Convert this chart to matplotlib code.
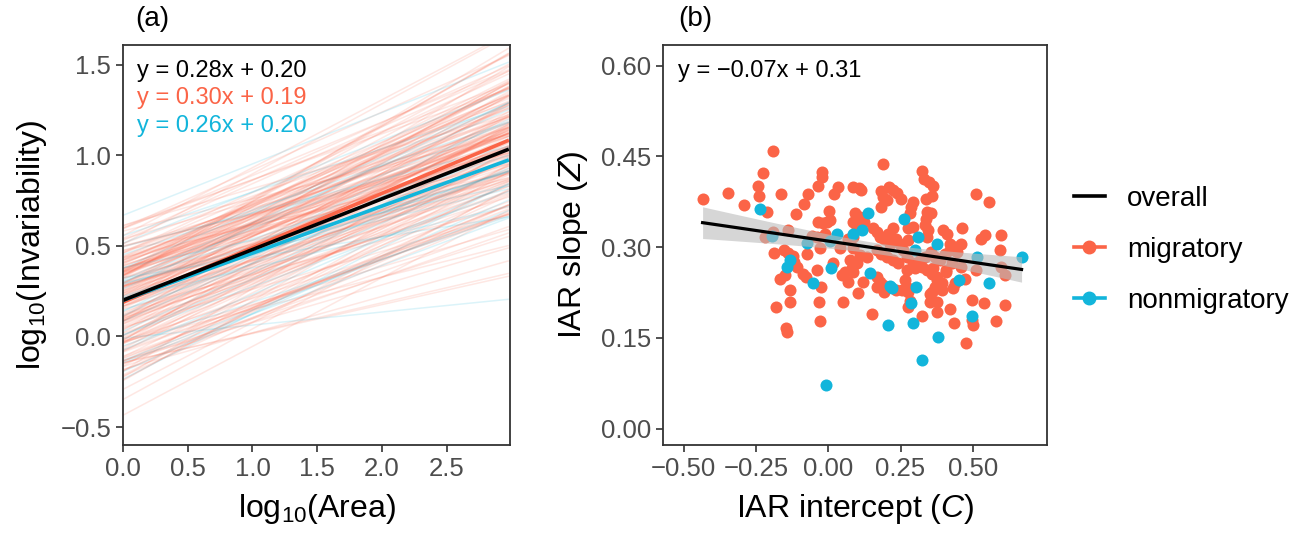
import numpy as np
import matplotlib
matplotlib.use("Agg")
import matplotlib.pyplot as plt
from matplotlib.lines import Line2D

plt.rcParams['font.family'] = ['Liberation Sans', 'DejaVu Sans']
plt.rcParams['mathtext.fontset'] = 'custom'
plt.rcParams['mathtext.rm'] = 'Liberation Sans'
plt.rcParams['mathtext.it'] = 'Liberation Sans:italic'

# IAR intercept (C) and slope (Z) per species
mig_C = [-0.192, 0.188, -0.225, -0.021, -0.021, -0.244, -0.035, 0.323, 0.332, 0.349,
         0.363, -0.435, -0.348, -0.292, -0.239, -0.164, -0.069, -0.084, 0.021, 0.035,
         0.086, 0.107, 0.112, 0.182, 0.211, 0.225, 0.239, 0.250, 0.188, 0.202,
         0.184, 0.294, 0.288, 0.282, 0.338, 0.360, 0.511, 0.557, -0.213, -0.113,
         0.003, -0.035, -0.017, -0.006, 0.006, 0.092, 0.109, 0.086, 0.123, 0.098,
         0.340, 0.357, 0.338, 0.334, 0.346, 0.340, -0.138, -0.219, -0.190, -0.058,
         -0.040, -0.012, 0.069, 0.086, 0.156, 0.167, 0.179, 0.192, 0.207, 0.225,
         0.213, 0.236, 0.248, 0.277, 0.277, 0.294, 0.398, 0.411, 0.421, 0.438,
         0.461, 0.464, 0.530, 0.542, 0.599, 0.594, -0.187, -0.153, -0.138, -0.123,
         -0.118, -0.075, -0.029, 0.040, 0.086, 0.075, 0.109, 0.133, 0.098, 0.167,
         0.184, 0.202, 0.225, 0.242, 0.259, 0.271, 0.294, 0.317, 0.334, 0.357,
         0.369, 0.386, 0.403, 0.421, 0.444, -0.109, -0.167, -0.150, -0.078, -0.086,
         -0.038, 0.017, 0.046, 0.058, 0.081, 0.086, 0.119, 0.069, 0.167, 0.179,
         0.190, 0.167, 0.271, 0.300, 0.323, 0.340, 0.363, 0.375, 0.392, 0.407,
         0.461, 0.473, 0.513, 0.599, 0.611, -0.133, -0.025, 0.103, 0.194, 0.254,
         0.267, 0.277, 0.352, 0.369, 0.392, 0.432, 0.438, -0.181, -0.133, -0.032,
         0.052, 0.277, 0.282, 0.352, 0.378, 0.421, 0.496, 0.538, 0.613, 0.152,
         0.323, 0.377, -0.028, 0.435, 0.496, 0.501, 0.582, -0.146, -0.144, 0.476,
         0.427, 0.375, 0.236, 0.277, 0.358, 0.409, 0.358]
mig_Z = [0.458, 0.437, 0.422, 0.424, 0.416, 0.401, 0.401, 0.426, 0.413, 0.408,
         0.401, 0.380, 0.390, 0.369, 0.385, 0.387, 0.387, 0.372, 0.388, 0.400,
         0.400, 0.397, 0.394, 0.393, 0.399, 0.395, 0.389, 0.379, 0.383, 0.378,
         0.367, 0.375, 0.367, 0.356, 0.379, 0.384, 0.387, 0.375, 0.358, 0.354,
         0.359, 0.341, 0.340, 0.342, 0.345, 0.356, 0.350, 0.342, 0.342, 0.331,
         0.358, 0.357, 0.347, 0.336, 0.328, 0.317, 0.329, 0.317, 0.325, 0.319,
         0.317, 0.321, 0.314, 0.317, 0.331, 0.325, 0.317, 0.313, 0.322, 0.331,
         0.306, 0.314, 0.306, 0.331, 0.311, 0.334, 0.328, 0.321, 0.306, 0.300,
         0.306, 0.331, 0.314, 0.320, 0.320, 0.295, 0.291, 0.295, 0.291, 0.285,
         0.276, 0.289, 0.298, 0.298, 0.298, 0.278, 0.287, 0.284, 0.273, 0.295,
         0.289, 0.284, 0.278, 0.273, 0.295, 0.284, 0.273, 0.278, 0.284, 0.292,
         0.284, 0.278, 0.289, 0.295, 0.292, 0.267, 0.248, 0.254, 0.251, 0.256,
         0.263, 0.273, 0.254, 0.259, 0.265, 0.259, 0.243, 0.243, 0.251, 0.243,
         0.237, 0.234, 0.262, 0.265, 0.267, 0.262, 0.265, 0.251, 0.240, 0.262,
         0.267, 0.248, 0.262, 0.267, 0.254, 0.230, 0.235, 0.224, 0.226, 0.230,
         0.245, 0.232, 0.223, 0.234, 0.229, 0.232, 0.240, 0.201, 0.209, 0.209,
         0.209, 0.201, 0.211, 0.209, 0.209, 0.198, 0.213, 0.207, 0.204, 0.189,
         0.186, 0.193, 0.178, 0.175, 0.180, 0.172, 0.178, 0.166, 0.160, 0.142,
         0.273, 0.245, 0.229, 0.226, 0.226, 0.259, 0.256]

non_C = [-0.236, -0.194, -0.133, -0.144, -0.075, -0.052, -0.009, 0.009, 0.006, 0.029,
         0.084, 0.115, 0.138, 0.144, 0.207, 0.213, 0.222, 0.262, 0.288, 0.294,
         0.305, 0.300, 0.311, 0.324, 0.378, 0.379, 0.452, 0.496, 0.515, 0.557, 0.669]
non_Z = [0.363, 0.318, 0.278, 0.268, 0.307, 0.240, 0.072, 0.266, 0.310, 0.322,
         0.322, 0.328, 0.356, 0.258, 0.172, 0.236, 0.232, 0.346, 0.208, 0.175,
         0.234, 0.296, 0.316, 0.113, 0.306, 0.152, 0.246, 0.186, 0.284, 0.240, 0.284]

# fitted mean lines (slope, intercept) shown in panel (a)
fit_names = ['overall', 'migratory', 'nonmigratory']
fit_slope = [0.28, 0.30, 0.26]
fit_inter = [0.20, 0.19, 0.20]
# regression of Z on C in panel (b)
zc_slope, zc_inter = -0.07, 0.31

red = '#FB6447'
blue = '#12B5DB'
tick_col = '#4D4D4D'
area_max = 2.98

fig = plt.figure(figsize=(12.99, 5.35), dpi=100)
ax1 = fig.add_axes([0.0947, 0.168, 0.298, 0.748])
ax2 = fig.add_axes([0.5104, 0.168, 0.2956, 0.748])

# panel (a): one line per species
xs = np.array([0.0, area_max])
for c, z in zip(mig_C, mig_Z):
    ax1.plot(xs, c + z * xs, color=red, alpha=0.15, lw=1.1, solid_capstyle='butt')
for c, z in zip(non_C, non_Z):
    ax1.plot(xs, c + z * xs, color=blue, alpha=0.15, lw=1.1, solid_capstyle='butt')
for name, col in [('migratory', red), ('nonmigratory', blue), ('overall', 'black')]:
    i = fit_names.index(name)
    ax1.plot(xs, fit_inter[i] + fit_slope[i] * xs, color=col, lw=2.6, solid_capstyle='butt')

eq_cols = ['black', red, blue]
eq_y = [0.935, 0.868, 0.797]
for i in range(3):
    ax1.text(0.036, eq_y[i], f'y = {fit_slope[i]:.2f}x + {fit_inter[i]:.2f}',
             transform=ax1.transAxes, color=eq_cols[i], fontsize=17, va='center')

ax1.set_xlim(0, 2.99)
ax1.set_ylim(-0.6, 1.61)
ax1.set_xticks([0, 0.5, 1.0, 1.5, 2.0, 2.5])
ax1.set_xticklabels(['0.0', '0.5', '1.0', '1.5', '2.0', '2.5'])
ax1.set_yticks([-0.5, 0, 0.5, 1.0, 1.5])
ax1.set_yticklabels(['\u22120.5', '0.0', '0.5', '1.0', '1.5'])
ax1.set_xlabel('log$_{10}$(Area)', fontsize=23, labelpad=8)
ax1.set_ylabel('log$_{10}$(Invariability)', fontsize=23, labelpad=8)

# panel (b): scatter + regression with 95% band
allC = np.array(mig_C + non_C)
allZ = np.array(mig_Z + non_Z)
n = len(allC)
resid = allZ - (zc_inter + zc_slope * allC)
s = np.sqrt(np.sum(resid ** 2) / (n - 2))
sxx = np.sum((allC - allC.mean()) ** 2)
cg = np.linspace(allC.min(), allC.max(), 100)
se = s * np.sqrt(1 / n + (cg - allC.mean()) ** 2 / sxx)
yg = zc_inter + zc_slope * cg

ax2.scatter(mig_C, mig_Z, s=75, color=red, lw=0, zorder=2)
ax2.scatter(non_C, non_Z, s=75, color=blue, lw=0, zorder=3)
ax2.fill_between(cg, yg - 1.97 * se, yg + 1.97 * se, color='#BBBBBB', alpha=0.6, lw=0, zorder=4)
ax2.plot(cg, yg, color='black', lw=2.3, zorder=5)
ax2.text(0.04, 0.935, f'y = \u2212{abs(zc_slope):.2f}x + {zc_inter:.2f}',
         transform=ax2.transAxes, fontsize=17, va='center')

ax2.set_xlim(-0.572, 0.757)
ax2.set_ylim(-0.027, 0.634)
ax2.set_xticks([-0.5, -0.25, 0, 0.25, 0.5])
ax2.set_xticklabels(['\u22120.50', '\u22120.25', '0.00', '0.25', '0.50'])
ax2.set_yticks([0, 0.15, 0.30, 0.45, 0.60])
ax2.set_yticklabels(['0.00', '0.15', '0.30', '0.45', '0.60'])
ax2.set_xlabel('IAR intercept ($C$)', fontsize=23, labelpad=8)
ax2.set_ylabel('IAR slope ($Z$)', fontsize=23, labelpad=8)

for ax in (ax1, ax2):
    for sp in ax.spines.values():
        sp.set_color('#333333')
        sp.set_linewidth(1.3)
    ax.tick_params(labelsize=18.5, labelcolor=tick_col, color='#333333',
                   length=5, width=1.2)

fig.text(0.104, 0.965, '(a)', fontsize=20, va='center')
fig.text(0.522, 0.965, '(b)', fontsize=20, va='center')

handles = [Line2D([], [], color='black', lw=2.6),
           Line2D([], [], color=red, lw=2.6, marker='o', ms=9),
           Line2D([], [], color=blue, lw=2.6, marker='o', ms=9)]
fig.legend(handles, fit_names, loc='center left', bbox_to_anchor=(0.8075, 0.533),
           frameon=False, fontsize=20, handlelength=1.12, labelspacing=0.91,
           handletextpad=0.8)

fig.savefig('out.png', dpi=100)
